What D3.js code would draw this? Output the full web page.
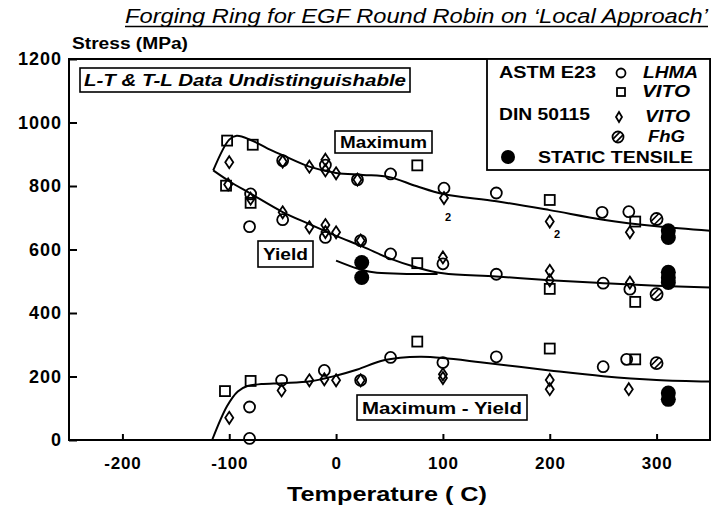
<!DOCTYPE html>
<html>
<head>
<meta charset="utf-8">
<script src="https://cdn.jsdelivr.net/npm/d3@7"></script>
<style>
  html, body { margin: 0; padding: 0; background: #fff; }
  svg { display: block; }
  text { font-family: "Liberation Sans", Arial, Helvetica, sans-serif; fill: #000; }
</style>
</head>
<body>
<svg id="chart" width="712" height="509"></svg>
<script>
// ---- Data: temperature (°C), stress (MPa) ----
// Maximum (ultimate) stress
const maxLHMA   = [[-50,880],[-10,866],[20,820],[51,838],[101,793],[150,778],[249,717],[274,719]];
const maxVitoE  = [[-102,943],[-78,930],[76,865],[200,756],[280,688]];
const maxVitoD  = [[-100,875],[-50,877],[-25,861],[-10,883],[-10,849],[0,840],[20,820],[101,762],[200,688],[275,654]];
const maxFhG    = [[300,696]];
const maxStatic = [[311,659],[311,638]];

// Yield stress
const yldLHMA   = [[-80,775],[-81,672],[-50,694],[-10,638],[23,628],[51,586],[100,555],[150,522],[250,494],[275,475]];
const yldVitoE  = [[-103,801],[-80,747],[76,557],[200,476],[280,435]];
const yldVitoD  = [[-101,805],[-80,760],[-50,717],[-25,670],[-10,677],[-10,655],[0,654],[23,628],[100,575],[200,533],[200,503],[275,496]];
const yldFhG    = [[300,459]];
const yldStatic = [[24,559],[24,512],[311,528],[311,511],[311,496]];

// Maximum - Yield
const difLHMA   = [[-81,104],[-81,5],[-51,188],[-11,219],[23,188],[51,260],[100,244],[150,262],[250,231],[272,254]];
const difVitoE  = [[-104,154],[-80,186],[76,310],[200,288],[280,254]];
const difVitoD  = [[-100,70],[-51,156],[-25,188],[-11,191],[0,188],[23,188],[100,207],[100,195],[200,189],[200,160],[274,160]];
const difFhG    = [[300,242]];
const difStatic = [[311,148],[311,128]];

// Trend curves
const maxCurve    = [[-115,849],[-100,946],[-93,958],[-80,945],[-64,918],[-50,897],[-25,861],[0,841],[25,835],[50,828],[75,800],[100,775],[150,752],[200,724],[250,694],[300,673],[350,659]];
const yieldCurve  = [[-115,849],[-100,815],[-80,776],[-50,718],[-25,680],[0,643],[25,609],[50,572],[75,544],[100,525],[150,515],[200,503],[250,494],[300,486],[350,480]];
const staticCurve = [[0,565],[20,540],[35,528],[60,524],[95,523]];
const diffCurve   = [[-116,0],[-102,107],[-92,153],[-83,170],[-70,176],[-49,179],[-24,185],[-2,201],[20,222],[42,249],[60,259],[80,262],[100,258],[135,245],[200,219],[250,201],[300,189],[350,184]];

// Multiplicity notes ("2" = two coincident results)
const countNotes = [[102,690,"2"],[204,636,"2"]];

// Axis ticks
const xTicks = [-200,-100,0,100,200,300];
const yTicks = [0,200,400,600,800,1000,1200];

// ---- Layout ----
const svg = d3.select("#chart");
const x = d3.scaleLinear().domain([-250,350]).range([69,710]);
const y = d3.scaleLinear().domain([0,1200]).range([440,59]);

// Title
svg.append("text")
  .attr("x",125).attr("y",23)
  .attr("font-size",20).attr("font-style","italic")
  .attr("textLength",583).attr("lengthAdjust","spacingAndGlyphs")
  .text("Forging Ring for EGF Round Robin on \u2018Local Approach\u2019");
svg.append("line").attr("x1",125).attr("x2",708).attr("y1",26.5).attr("y2",26.5)
  .attr("stroke","#000").attr("stroke-width",1.4);

svg.append("text").attr("x",72).attr("y",49).attr("font-size",16).attr("font-weight","bold")
  .attr("textLength",116).attr("lengthAdjust","spacingAndGlyphs").text("Stress (MPa)");

// Axes
const plainNum = d => String(d);
const xAxis = d3.axisBottom(x).tickValues(xTicks).tickFormat(plainNum).tickSizeInner(-6).tickSizeOuter(0).tickPadding(17);
const yAxis = d3.axisLeft(y).tickValues(yTicks).tickFormat(plainNum).tickSizeInner(-8).tickSizeOuter(0).tickPadding(7);

const gx = svg.append("g").attr("transform",`translate(0,${y(0)})`).call(xAxis);
const gy = svg.append("g").attr("transform",`translate(${x(-250)},0)`).call(yAxis);
[gx,gy].forEach(g => {
  g.select(".domain").remove();
  g.selectAll(".tick line").attr("stroke","#000").attr("stroke-width",2);
  g.selectAll(".tick text").attr("font-family","'Liberation Sans', Arial, sans-serif")
    .attr("font-weight","bold").attr("font-size",18).attr("fill","#000");
});
gx.selectAll(".tick text").attr("font-size",17).attr("letter-spacing",0.8);
gy.selectAll(".tick text").attr("letter-spacing",1);

// Frame
svg.append("rect").attr("x",x(-250)).attr("y",y(1200))
  .attr("width",x(350)-x(-250)).attr("height",y(0)-y(1200))
  .attr("fill","none").attr("stroke","#000").attr("stroke-width",2);

svg.append("text").attr("x",287).attr("y",501).attr("font-size",21).attr("font-weight","bold")
  .attr("textLength",200).attr("lengthAdjust","spacingAndGlyphs").text("Temperature ( C)");

// Curves
const line = d3.line().x(d => x(d[0])).y(d => y(d[1])).curve(d3.curveCatmullRom.alpha(0.5));
[maxCurve, yieldCurve, staticCurve, diffCurve].forEach(c => {
  svg.append("path").attr("d", line(c)).attr("fill","none")
    .attr("stroke","#000").attr("stroke-width",2).attr("stroke-linejoin","round");
});

// Marker drawers
const plotG = svg.append("g").attr("fill","none").attr("stroke","#000").attr("stroke-width",1.8);
function circleMark(g, cx, cy, r) {
  g.append("circle").attr("cx",cx).attr("cy",cy).attr("r",r);
}
function squareMark(g, cx, cy, s) {
  g.append("rect").attr("x",cx-s/2).attr("y",cy-s/2).attr("width",s).attr("height",s);
}
function diamondMark(g, cx, cy, w, h) {
  g.append("path").attr("d",`M${cx},${cy-h/2}L${cx+w/2},${cy}L${cx},${cy+h/2}L${cx-w/2},${cy}Z`);
}
function fhgMark(g, cx, cy, r) {
  g.append("circle").attr("cx",cx).attr("cy",cy).attr("r",r);
  // two parallel hatch strokes slanting up to the right
  const ux = Math.SQRT1_2, uy = -Math.SQRT1_2;   // along the stroke
  const nx = Math.SQRT1_2, ny = Math.SQRT1_2;    // across the strokes
  [-0.38, 0.38].forEach(o => {
    const off = o * r;
    const half = Math.sqrt(Math.max(0, r*r - off*off));
    const px = cx + nx*off, py = cy + ny*off;
    g.append("line")
      .attr("x1", px - ux*half).attr("y1", py - uy*half)
      .attr("x2", px + ux*half).attr("y2", py + uy*half)
      .attr("stroke-width",1.6);
  });
}
function staticMark(g, cx, cy, r) {
  g.append("circle").attr("cx",cx).attr("cy",cy).attr("r",r).attr("fill","#000").attr("stroke","none");
}

[maxLHMA, yldLHMA, difLHMA].forEach(set => set.forEach(d => circleMark(plotG, x(d[0]), y(d[1]), 5.5)));
[maxVitoE, yldVitoE, difVitoE].forEach(set => set.forEach(d => squareMark(plotG, x(d[0]), y(d[1]), 10)));
[maxVitoD, yldVitoD, difVitoD].forEach(set => set.forEach(d => diamondMark(plotG, x(d[0]), y(d[1]), 8, 12)));
[maxFhG, yldFhG, difFhG].forEach(set => set.forEach(d => fhgMark(plotG, x(d[0]), y(d[1]), 6)));
[maxStatic, yldStatic, difStatic].forEach(set => set.forEach(d => staticMark(plotG, x(d[0]), y(d[1]), 7.5)));

countNotes.forEach(d => {
  svg.append("text").attr("x",x(d[0])).attr("y",y(d[1])).attr("font-size",11)
    .attr("font-weight","bold").text(d[2]);
});

// Boxed labels
function boxLabel(x0, y0, x1, y1, txt, opts) {
  svg.append("rect").attr("x",x0).attr("y",y0).attr("width",x1-x0).attr("height",y1-y0)
    .attr("fill","#fff").attr("stroke","#000").attr("stroke-width",1.6);
  svg.append("text").attr("x",x0+opts.pad).attr("y",opts.base)
    .attr("font-size",opts.size).attr("font-weight","bold")
    .attr("font-style",opts.italic ? "italic" : "normal")
    .attr("textLength",x1-x0-2*opts.pad).attr("lengthAdjust","spacingAndGlyphs")
    .text(txt);
}
boxLabel(80,68,410,92,"L-T & T-L Data Undistinguishable",{pad:4,base:86,size:16,italic:true});
boxLabel(335,131,432,153,"Maximum",{pad:5,base:148,size:16});
boxLabel(258,241,313,267,"Yield",{pad:5,base:260,size:17});
boxLabel(357,395,527,420,"Maximum - Yield",{pad:5,base:414,size:17});

// Legend
const lg = svg.append("g");
lg.append("rect").attr("x",487).attr("y",y(1200)).attr("width",x(350)-487).attr("height",170-y(1200))
  .attr("fill","#fff").attr("stroke","#000").attr("stroke-width",1.8);
const legendText = [
  {t:"ASTM E23", x:499, y:78, w:97, it:false},
  {t:"LHMA", x:643, y:78, w:55, it:true},
  {t:"VITO", x:642, y:97, w:48, it:true},
  {t:"DIN 50115", x:499, y:120, w:91, it:false},
  {t:"VITO", x:645, y:122, w:45, it:true},
  {t:"FhG", x:648, y:142, w:37, it:true},
  {t:"STATIC TENSILE", x:538, y:163, w:155, it:false}
];
legendText.forEach(d => {
  lg.append("text").attr("x",d.x).attr("y",d.y).attr("font-size",16).attr("font-weight","bold")
    .attr("font-style",d.it ? "italic" : "normal")
    .attr("textLength",d.w).attr("lengthAdjust","spacingAndGlyphs").text(d.t);
});
const lgSym = lg.append("g").attr("fill","none").attr("stroke","#000").attr("stroke-width",1.8);
circleMark(lgSym, 621, 73, 4.5);
squareMark(lgSym, 621, 92, 8);
diamondMark(lgSym, 619, 117, 6, 10);
fhgMark(lgSym, 618, 137, 5.5);
staticMark(lgSym, 508, 157, 7);
</script>
</body>
</html>
